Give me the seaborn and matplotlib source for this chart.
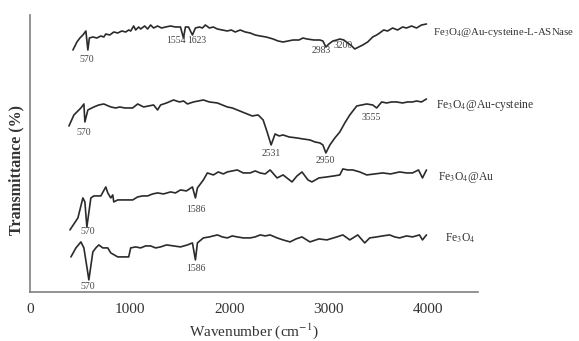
import matplotlib
matplotlib.use("Agg")
import matplotlib.pyplot as plt
import pandas as pd
import seaborn as sns

sns.set_style("white")
plt.rcParams['font.family'] = ['Liberation Serif', 'DejaVu Serif']
plt.rcParams['mathtext.fontset'] = 'stix'

# FTIR spectra (wavenumber in cm-1, transmittance in arbitrary offset units)
wn_asnase = [430, 470, 500, 530, 560, 580, 595, 630, 670, 710, 740, 760, 800, 840, 880, 920,
             960, 990, 1010, 1040, 1060, 1090, 1110, 1150, 1180, 1210, 1240, 1280, 1320, 1360,
             1410, 1460, 1510, 1540, 1560, 1590, 1630, 1660, 1700, 1730, 1760, 1800, 1840, 1880,
             1930, 1980, 2020, 2060, 2110, 2160, 2210, 2260, 2310, 2370, 2440, 2490, 2540, 2590,
             2640, 2700, 2740, 2780, 2850, 2910, 2940, 2970, 3000, 3040, 3080, 3110, 3150, 3190,
             3230, 3260, 3300, 3340, 3390, 3440, 3480, 3510, 3550, 3590, 3640, 3690, 3740, 3780,
             3830, 3880, 3930, 3980]
t_asnase = [242, 250, 254, 257, 261, 242, 254, 255, 254, 256, 255, 258, 257, 260, 259, 261,
            260, 262, 261, 266, 262, 265, 263, 266, 263, 267, 264, 266, 264, 265,
            266, 265, 265, 254, 265, 265, 257, 264, 265, 264, 267, 264, 265, 263,
            262, 261, 262, 260, 262, 260, 259, 257, 256, 255, 253, 251, 250, 251,
            252, 252, 254, 253, 252, 252, 251, 245, 248, 251, 252, 253, 252, 249,
            246, 243, 245, 247, 250, 255, 257, 259, 262, 261, 264, 262, 265, 264,
            266, 264, 267, 268]

wn_cys = [390, 440, 510, 540, 550, 580, 640, 690, 740, 810, 860, 900, 950, 1030, 1080, 1140,
          1190, 1240, 1280, 1310, 1370, 1440, 1500, 1540, 1580, 1640, 1690, 1740, 1800, 1880,
          1930, 1980, 2030, 2080, 2130, 2180, 2230, 2290, 2340, 2380, 2420, 2460, 2500, 2540,
          2600, 2680, 2740, 2810, 2860, 2910, 2940, 2970, 3010, 3060, 3110, 3160, 3210, 3280,
          3330, 3380, 3440, 3480, 3530, 3580, 3630, 3680, 3740, 3790, 3840, 3880, 3930, 3980]
t_cys = [166, 177, 184, 188, 170, 182, 185, 187, 188, 185, 184, 185, 184, 184, 188, 185,
         186, 187, 182, 187, 189, 192, 190, 191, 188, 190, 191, 192, 190, 189,
         187, 185, 184, 182, 180, 178, 176, 177, 172, 160, 147, 158, 156, 157,
         155, 154, 153, 152, 150, 149, 147, 139, 147, 154, 160, 169, 177, 186,
         187, 188, 187, 184, 190, 189, 190, 190, 189, 190, 190, 191, 190, 193]

wn_au = [400, 480, 530, 550, 570, 610, 640, 710, 760, 780, 810, 830, 840, 880, 930, 980,
         1030, 1080, 1130, 1180, 1230, 1280, 1340, 1410, 1460, 1510, 1570, 1630, 1660, 1680,
         1740, 1780, 1840, 1890, 1940, 1980, 2030, 2080, 2140, 2210, 2260, 2310, 2360, 2410,
         2480, 2540, 2630, 2680, 2730, 2790, 2830, 2900, 2980, 3050, 3110, 3140, 3190, 3240,
         3310, 3380, 3460, 3540, 3620, 3710, 3780, 3840, 3900, 3940, 3980]
t_au = [62, 74, 94, 90, 65, 94, 96, 96, 105, 99, 94, 97, 90, 92, 92, 92,
        92, 95, 96, 96, 98, 99, 98, 100, 99, 102, 101, 105, 94, 104,
        112, 119, 117, 120, 118, 120, 121, 122, 119, 119, 121, 119, 118, 122,
        114, 117, 110, 116, 120, 112, 110, 114, 115, 116, 117, 123, 122, 122,
        120, 117, 118, 119, 118, 120, 119, 119, 122, 114, 122]

wn_fe = [410, 460, 510, 540, 570, 590, 630, 660, 690, 730, 780, 810, 880, 990, 1010, 1060,
         1110, 1160, 1210, 1260, 1310, 1370, 1440, 1510, 1580, 1630, 1660, 1680, 1740, 1800,
         1880, 1930, 1980, 2030, 2080, 2140, 2210, 2260, 2310, 2360, 2410, 2480, 2540, 2610,
         2670, 2730, 2810, 2900, 2980, 3080, 3140, 3210, 3290, 3360, 3410, 3480, 3540, 3610,
         3660, 3710, 3780, 3840, 3910, 3940, 3980]
t_fe = [35, 44, 50, 44, 25, 12, 40, 44, 47, 44, 44, 39, 35, 35, 44, 45,
        44, 46, 46, 44, 45, 47, 46, 45, 47, 49, 32, 49, 54, 55,
        57, 55, 54, 56, 55, 54, 54, 55, 57, 56, 57, 54, 52, 50,
        53, 55, 50, 53, 52, 55, 57, 52, 57, 49, 54, 55, 56, 57,
        55, 54, 56, 55, 57, 52, 57]

series_names = ["Fe$_3$O$_4$@Au-cysteine-L-ASNase", "Fe$_3$O$_4$@Au-cysteine",
                "Fe$_3$O$_4$@Au", "Fe$_3$O$_4$"]
series_wn = [wn_asnase, wn_cys, wn_au, wn_fe]
series_t = [t_asnase, t_cys, t_au, t_fe]
name_pos = [(4050, 259), (4080, 186), (4100, 114), (4170, 54)]

# peak annotations: (text, wavenumber, y)
peaks = [("570", 570, 232), ("1554", 1460, 251), ("1623", 1670, 251), ("2983", 2920, 241),
         ("3200", 3140, 246),
         ("570", 540, 159), ("2531", 2420, 138), ("2950", 2960, 131), ("3555", 3430, 174),
         ("570", 580, 60), ("1586", 1660, 82),
         ("570", 580, 5), ("1586", 1660, 23)]

fig = plt.figure(figsize=(5.79, 3.41), dpi=100)
ax = fig.add_axes([0.052, 0.144, 0.774, 0.812])

for wn, t in zip(series_wn, series_t):
    df = pd.DataFrame({"wn": wn, "t": t})
    sns.lineplot(data=df, x="wn", y="t", ax=ax, color="#2b2b2b", linewidth=1.2,
                 estimator=None, sort=False)

for i, (name, (x, y)) in enumerate(zip(series_names, name_pos)):
    ax.text(x, y, name, fontsize=7.8 if i == 0 else 8.4, color="#333333",
            va="center", ha="left")

for txt, x, y in peaks:
    ax.text(x, y, txt, fontsize=7, color="#444444", ha="center", va="center")

ax.set_xlim(0, 4500)
ax.set_ylim(0, 277)
ax.set_xticks([0, 1000, 2000, 3000, 4000])
ax.set_yticks([])
ax.tick_params(axis="x", direction="in", length=4, width=1, color="#808080",
               labelsize=11, labelcolor="#333333", pad=8)
sns.despine(ax=ax)
for s in ["left", "bottom"]:
    ax.spines[s].set_color("#808080")
    ax.spines[s].set_linewidth(1.2)

ax.set_xlabel("Wavenumber (cm$^{-1}$)", fontsize=11, color="#333333", labelpad=4)
ax.set_ylabel("Transmittance (%)", fontsize=11.5, color="#333333", fontweight="bold")
ax.yaxis.set_label_coords(-0.012, 0.44)

plt.savefig("out.png", dpi=100)
